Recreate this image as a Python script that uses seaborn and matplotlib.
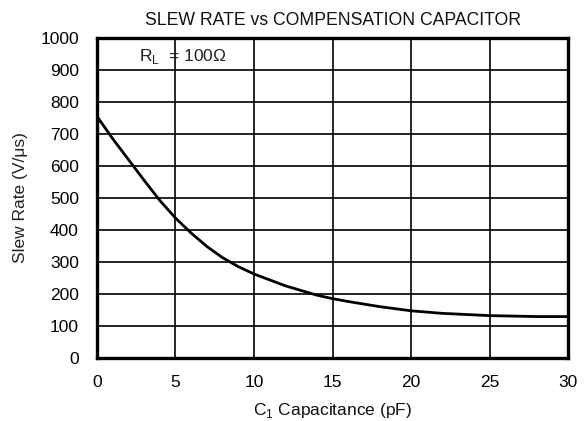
import matplotlib
matplotlib.use("Agg")
import matplotlib.pyplot as plt
import seaborn as sns
import pandas as pd

# Data
capacitance_pf = [0, 1, 2, 3, 4, 5, 6, 7, 8, 9, 10, 12, 14, 15, 16, 18, 20, 22, 25, 28, 30]
slew_rate = [755, 685, 620, 555, 492, 437, 390, 348, 313, 285, 262, 225, 196, 185, 176, 160, 147, 139, 132, 129, 129]
x_ticks = [0, 5, 10, 15, 20, 25, 30]
y_ticks = [0, 100, 200, 300, 400, 500, 600, 700, 800, 900, 1000]

sns.set_style("white")
plt.rcParams['font.family'] = ['Liberation Sans', 'DejaVu Sans']
plt.rcParams['mathtext.fontset'] = 'custom'
plt.rcParams['mathtext.rm'] = 'Liberation Sans'
plt.rcParams['text.color'] = '#111111'

df = pd.DataFrame({"C": capacitance_pf, "SR": slew_rate})

fig = plt.figure(figsize=(5.84, 4.21), dpi=100)
ax = fig.add_axes([0.166, 0.150, 0.807, 0.760])

sns.lineplot(data=df, x="C", y="SR", ax=ax, color="black", linewidth=2.0)

ax.set_xlim(0, 30)
ax.set_ylim(0, 1000)
ax.set_xticks(x_ticks)
ax.set_yticks(y_ticks)
ax.set_xticklabels([str(v) for v in x_ticks])
ax.set_yticklabels([str(v) for v in y_ticks])
ax.tick_params(axis="both", length=0, labelsize=12.5, colors="black")
ax.tick_params(axis="y", pad=13)
ax.tick_params(axis="x", pad=12)

ax.grid(True, color="black", linewidth=1.2)
ax.set_axisbelow(True)
for s in ax.spines.values():
    s.set_visible(True)
    s.set_color("black")
    s.set_linewidth(2.4)

ax.set_xlabel("C$_1$ Capacitance (pF)", fontsize=12.5, labelpad=8, color="#111111")
ax.set_ylabel("Slew Rate (V/\u03bcs)", fontsize=12.5, labelpad=9, color="#222222")
ax.set_title("SLEW RATE vs COMPENSATION CAPACITOR", fontsize=12.7, pad=9, color="#111111")

ax.text(2.65, 942, "R$_\\mathregular{L}$  = 100\u03a9", fontsize=12.5, ha="left", va="center",
        color="#222222")

fig.savefig("out.png", dpi=100)
